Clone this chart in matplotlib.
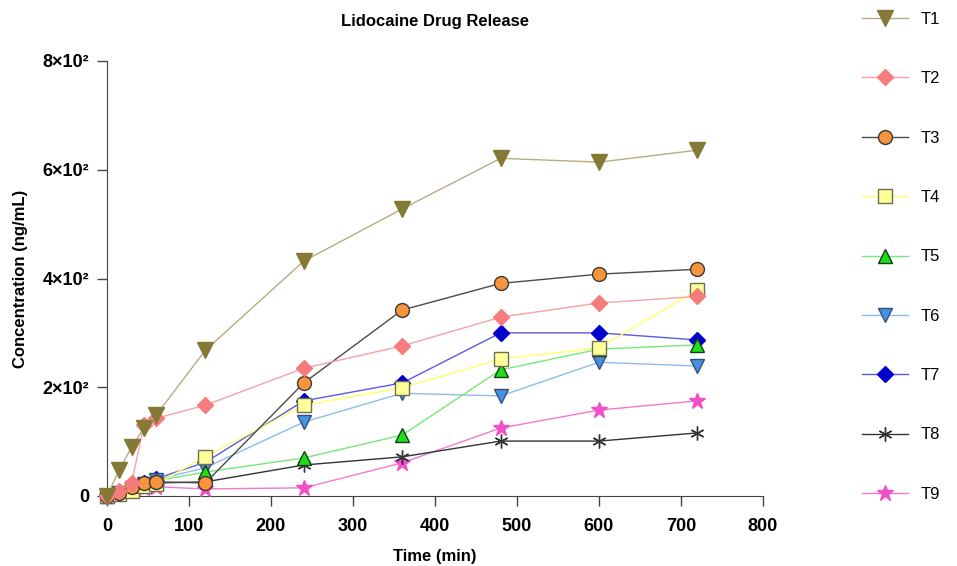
import matplotlib
matplotlib.use('Agg')
from matplotlib import pyplot as plt
from matplotlib.ticker import FuncFormatter

plt.rcParams['font.family'] = ['Liberation Sans', 'DejaVu Sans']

# sampling times (min)
times = [0, 15, 30, 45, 60, 120, 240, 360, 480, 600, 720]

t1 = [0, 48, 90, 125, 149, 268, 432, 528, 621, 614, 636]
t2 = [0, 10, 24, 130, 143, 167, 235, 276, 329, 355, 367]
t3 = [0, 6, 16, 24, 26, 24, 208, 342, 391, 408, 417]
t4 = [0, 4, 10, 18, 22, 72, 167, 199, 252, 272, 379]
t5 = [0, 6, 14, 22, 28, 44, 70, 112, 232, 270, 278]
t6 = [0, 6, 14, 22, 30, 52, 136, 189, 184, 246, 239]
t7 = [0, 7, 16, 24, 32, 62, 175, 208, 300, 300, 287]
t8 = [0, 8, 14, 20, 24, 26, 57, 72, 101, 101, 116]
t9 = [0, 8, 12, 15, 17, 13, 15, 61, 125, 158, 175]

labels = ['T1', 'T2', 'T3', 'T4', 'T5', 'T6', 'T7', 'T8', 'T9']
series = [t1, t2, t3, t4, t5, t6, t7, t8, t9]

# (marker, face, edge, line colour, size)
styles = [
    ('v', '#857A35', '#857A35', '#B5AC82', 11),
    ('D', '#F47C7C', '#F47C7C', '#F6A3A3', 8),
    ('o', '#F7943C', '#3A3A3A', '#4A4A4A', 10),
    ('s', '#FFFF99', '#6E6E50', '#FFFF66', 10),
    ('^', '#1AE01A', '#1A3A1A', '#77E877', 10),
    ('v', '#4A90E2', '#34507A', '#8CBCEB', 10),
    ('D', '#0000CC', '#0000CC', '#5A5AE6', 8),
    ((6, 2, 0), '#333333', '#333333', '#333333', 10),
    ('*', '#F050C8', '#F050C8', '#F07AD2', 12),
]

fig = plt.figure(figsize=(9.57, 5.66), dpi=100)
ax = fig.add_axes([107/957, 70/566, 656/957, 435/566])

handles = []
n = len(series)
for i, (lab, vals, st) in enumerate(zip(labels, series, styles)):
    mk, fc, ec, lc, ms = st
    h, = ax.plot(times, vals, color=lc, lw=1, marker=mk, markersize=ms,
                 markerfacecolor=fc, markeredgecolor=ec, markeredgewidth=1,
                 label=lab, clip_on=False, zorder=3 + (n - i))
    handles.append(h)

ax.set_xlim(0, 800)
ax.set_ylim(0, 800)
ax.set_xticks(range(0, 801, 100))
ax.set_yticks([0, 200, 400, 600, 800])

def sci(v, pos):
    if v == 0:
        return '0'
    return '%d×10²' % int(v / 100)

ax.yaxis.set_major_formatter(FuncFormatter(sci))
ax.spines['top'].set_visible(False)
ax.spines['right'].set_visible(False)
for sp in ax.spines.values():
    sp.set_color('#444444')
ax.tick_params(axis='both', direction='out', length=7, width=1,
               labelsize=13, pad=6, color='#444444')
ax.tick_params(axis='x', pad=9)
for lbl in ax.get_xticklabels() + ax.get_yticklabels():
    lbl.set_fontweight('bold')

ax.set_xlabel('Time (min)', fontsize=12, fontweight='bold', labelpad=10)
ax.set_ylabel('Concentration (ng/mL)', fontsize=12, fontweight='bold', labelpad=10)
ax.set_title('Lidocaine Drug Release', fontsize=12, fontweight='bold', pad=25)

fig.legend(handles=handles, labels=labels, loc='upper left',
           bbox_to_anchor=(847/957, 1 + 3/566), frameon=False,
           fontsize=12, labelspacing=2.66, handlelength=2.75,
           handletextpad=0.75)

fig.savefig('out.png', dpi=100)
